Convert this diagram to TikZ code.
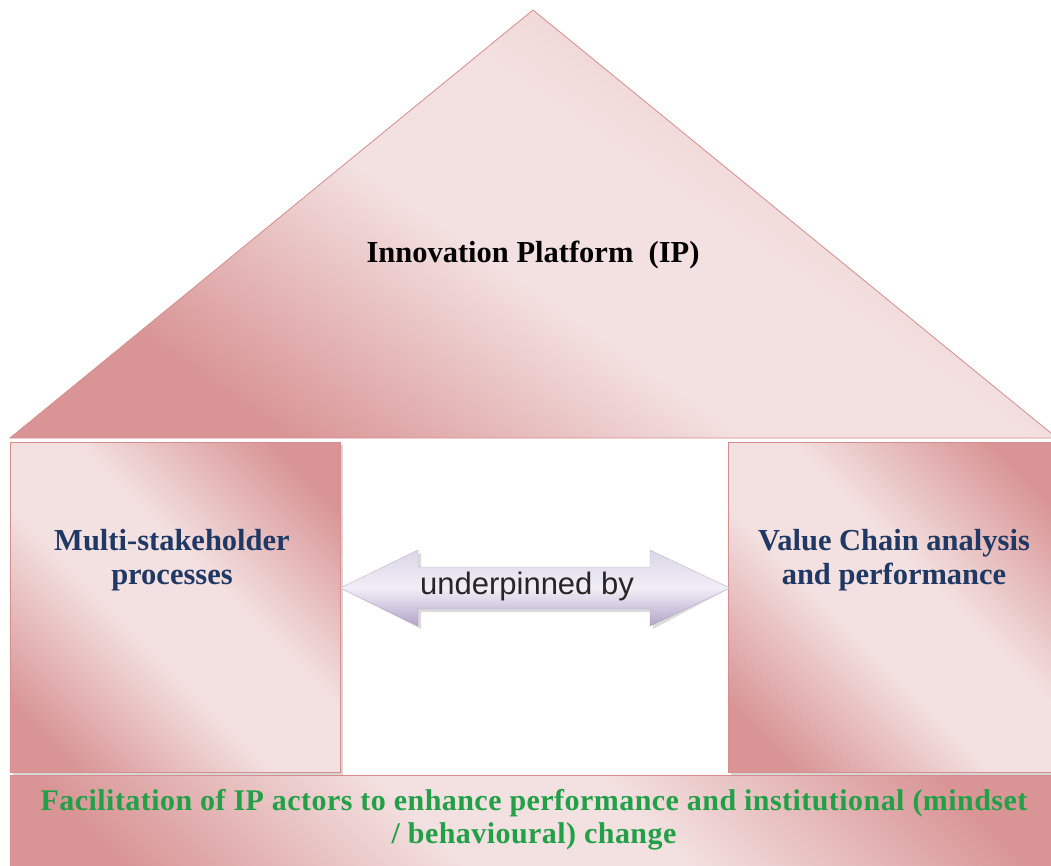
\documentclass[tikz,border=0pt]{standalone}
\usepackage{fontspec}
\setmainfont{Liberation Serif}
\newfontfamily\arialf{Liberation Sans}
\usetikzlibrary{calc}
\definecolor{pkD}{HTML}{D99596}
\definecolor{pkL}{HTML}{F3E0E0}
\definecolor{pkM}{HTML}{E9C0C0}
\definecolor{edgec}{HTML}{D98C8C}
\definecolor{navy}{HTML}{1F3864}
\definecolor{grn}{HTML}{22A048}
\definecolor{lavL}{HTML}{F1EEF6}
\definecolor{lavT}{HTML}{DCD5E8}
\definecolor{lavD}{HTML}{B3A4CA}
\definecolor{txtg}{HTML}{262626}
\pgfdeclareverticalshading{pinkdiag}{100bp}{color(0bp)=(pkD); color(22bp)=(pkD); color(43bp)=(pkL); color(57bp)=(pkL); color(78bp)=(pkD); color(100bp)=(pkD)}
\pgfdeclareverticalshading{roofsh}{100bp}{color(0bp)=(pkD); color(27bp)=(pkD); color(46bp)=(pkL); color(58bp)=(pkL); color(78bp)=(pkM); color(100bp)=(pkM)}
\begin{document}
\begin{tikzpicture}[x=1pt,y=-1pt,
  boxshade/.style={shade,shading=pinkdiag,shading angle=-45},
  roofshade/.style={shade,shading=roofsh,shading angle=-35},
  edgeline/.style={draw=edgec,line width=0.8pt},
  shadowbox/.style={fill=black!40,opacity=0.4},
  arrowshade/.style={top color=lavT,bottom color=lavD,middle color=lavL},
  serifbold/.style={font=\fontsize{30.5}{34}\selectfont\bfseries,align=center},
  lbl/.style={serifbold,text=navy}
]
\useasboundingbox (0,0) rectangle (1051,865);
\clip (0,0) rectangle (1051,865);
\fill[white] (0,0) rectangle (1051,865);

% roof
\path[roofshade] (10,438) -- (533,10) -- (1057,438) -- cycle;
\draw[edgeline] (10,438) -- (533,10) -- (1057,438) -- cycle;
\node[serifbold,text=black] (ip) at (533,255) {Innovation Platform\ \ (IP)};

% left pillar
\fill[shadowbox] (13,445) rectangle (343,775);
\path[boxshade] (10,442) rectangle (340,772);
\draw[edgeline] (10,442) rectangle (340,772);
\node[lbl] (msp) at (172,560) {Multi-stakeholder\\processes};

% right pillar
\fill[shadowbox] (731,445) rectangle (1060,775);
\path[boxshade] (728,442) rectangle (1058,772);
\draw[edgeline] (728,442) rectangle (1058,772);
\node[lbl] (vca) at (894,560) {Value Chain analysis\\and performance};

% foundation
\path[boxshade] (10,775) rectangle (1058,870);
\draw[edgeline] (10,775) rectangle (1058,870);
\node[serifbold,text=grn,font=\fontsize{30}{33}\selectfont\bfseries\addfontfeatures{LetterSpace=1.5}] (fac) at (534,820)
  {Facilitation of IP actors to enhance performance and institutional (mindset\\/ behavioural) change};

% double arrow between the pillars
\coordinate (lt) at (340,588);
\coordinate (rt) at (730,588);
\fill[black!40,opacity=0.35,shift={(3,3)}] (lt) -- (418,550) -- (418,567) -- (650,567) -- (650,550) -- (rt) -- (650,626) -- (650,609) -- (418,609) -- (418,626) -- cycle;
\path[arrowshade] (lt) -- (418,550) -- (418,567) -- (650,567) -- (650,550) -- (rt) -- (650,626) -- (650,609) -- (418,609) -- (418,626) -- cycle;
\draw[draw=lavD!80!black,line width=0.4pt,opacity=0.5] (lt) -- (418,550) -- (418,567) -- (650,567) -- (650,550) -- (rt) -- (650,626) -- (650,609) -- (418,609) -- (418,626) -- cycle;
\node[font=\arialf\fontsize{31}{34}\selectfont,text=txtg] (ub) at (527,586) {underpinned by};
\end{tikzpicture}
\end{document}
